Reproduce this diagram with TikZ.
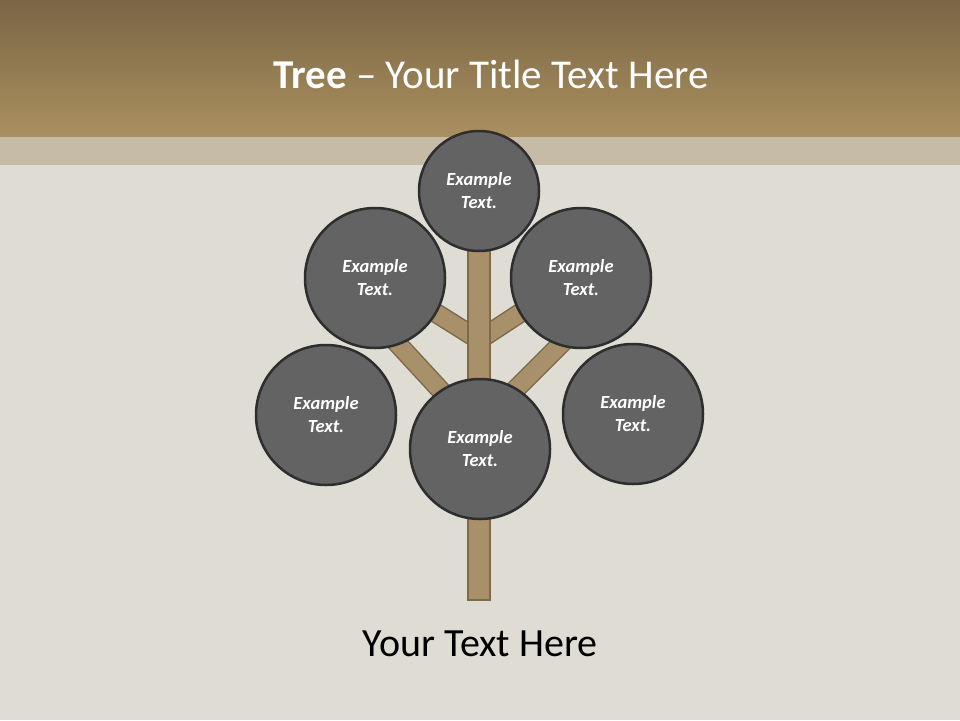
\documentclass[tikz,border=0pt]{standalone}
\usepackage{fontspec}
\setmainfont{Carlito}
\usetikzlibrary{calc}
\definecolor{bandtop}{HTML}{7A6645}
\definecolor{bandbot}{HTML}{AA905F}
\definecolor{bandlight}{HTML}{C6BBA6}
\definecolor{bgcol}{HTML}{DFDCD4}
\definecolor{woodfill}{HTML}{A8906A}
\definecolor{woodline}{HTML}{7D6A4B}
\definecolor{ballfill}{HTML}{636363}
\definecolor{ballline}{HTML}{2E2E2E}
\tikzset{
  ball/.style={circle, fill=ballfill, draw=ballline, line width=2.5pt, inner sep=0pt,
    text=white, align=center, font=\fontsize{18.5}{23}\selectfont\bfseries\itshape},
  branchout/.style={line width=20pt, draw=woodline},
  branchin/.style={line width=17pt, draw=woodfill},
}
\begin{document}
\begin{tikzpicture}[x=1pt,y=-1pt]
\useasboundingbox (0,0) rectangle (960,720);
\fill[bgcol] (0,0) rectangle (960,720);
\shade[top color=bandtop, bottom color=bandbot] (0,0) rectangle (960,137);
\fill[bandlight] (0,137) rectangle (960,165);
\node[text=white, font=\fontsize{41}{46}\selectfont, anchor=base] (title) at (491,88) {\textbf{Tree} – Your Title Text Here};
% branch coordinates
\coordinate (tj) at (479,340);
\coordinate (ul) at (420,303);
\coordinate (ur) at (540,300);
\coordinate (ljl) at (468,420);
\coordinate (ljr) at (490,415);
\coordinate (ll) at (385,330);
\coordinate (lr) at (575,330);
\foreach \a/\b in {tj/ul, tj/ur, ljl/ll, ljr/lr} {
  \draw[branchout] (\a) -- (\b);
  \draw[branchin] (\a) -- (\b);
}
\draw[fill=woodfill, draw=woodline, line width=1.5pt] (468,250) rectangle (490,600);
\node[ball, minimum size=120pt] (top) at (479,191) {Example\\Text.};
\node[ball, minimum size=140pt] (uleft) at (375,278) {Example\\Text.};
\node[ball, minimum size=140pt] (uright) at (581,278) {Example\\Text.};
\node[ball, minimum size=140pt] (lleft) at (326,415) {Example\\Text.};
\node[ball, minimum size=140pt] (lright) at (633,414) {Example\\Text.};
\node[ball, minimum size=140pt] (center) at (480,449) {Example\\Text.};
\node[text=black, font=\fontsize{40}{46}\selectfont, anchor=base] (foot) at (480,656) {Your Text Here};
\end{tikzpicture}
\end{document}
